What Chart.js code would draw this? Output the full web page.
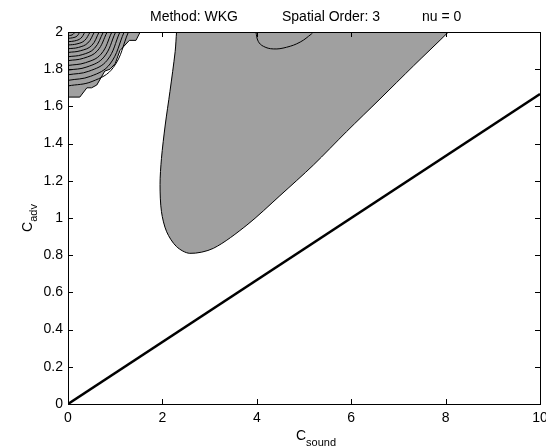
<!DOCTYPE html>
<html>
<head>
<meta charset="utf-8">
<script src="https://cdn.jsdelivr.net/npm/chart.js@4/dist/chart.umd.min.js"></script>
<style>
  html, body { margin: 0; padding: 0; background: #fff; }
  #wrap { width: 546px; height: 448px; }
</style>
</head>
<body>
<div id="wrap"><canvas id="chart" width="546" height="448"></canvas></div>
<script>
// Axis ranges and ticks
const xTicks = [0, 2, 4, 6, 8, 10];
const yTicks = [0, 0.2, 0.4, 0.6, 0.8, 1, 1.2, 1.4, 1.6, 1.8, 2];

// Stability line C_adv = C_sound / 6
const lineX = [0, 10];
const lineY = [0, 1.6667];

// Grey region boundary (closed loop, top part runs just above the axes and is clipped)
const regionX = [2.33, 2.30, 2.27, 2.16, 2.06, 1.98, 1.95, 1.98, 2.09, 2.30, 2.58, 3.08, 3.79, 4.49, 5.20, 5.90, 6.61, 7.32, 8.06, 8.36, 2.33];
const regionY = [2.08, 2.00, 1.894, 1.68, 1.50, 1.32, 1.18, 1.034, 0.926, 0.846, 0.81, 0.837, 0.962, 1.12, 1.285, 1.464, 1.640, 1.818, 2.00, 2.08, 2.08];

// Inner contour line near the top of the grey region
const innerX = [3.98, 4.03, 4.14, 4.35, 4.63, 4.92, 5.16, 5.20];
const innerY = [2.00, 1.95, 1.923, 1.909, 1.918, 1.946, 1.99, 2.00];

// Top-left blob outer (stepped) boundary
const blobX = [0, 1.53, 1.44, 1.30, 1.10, 1.00, 0.89, 0.78, 0.61, 0.50, 0.40, 0.25, 0, 0];
const blobY = [2.00, 2.00, 1.955, 1.955, 1.90, 1.83, 1.80, 1.79, 1.715, 1.70, 1.70, 1.65, 1.65, 2.00];

// Top-left blob contour arcs
const arcsX = [
  [0, 0.06, 0.11, 0.15],
  [0, 0.10, 0.19, 0.25],
  [0, 0.14, 0.27, 0.36],
  [0, 0.19, 0.35, 0.47],
  [0, 0.22, 0.42, 0.56],
  [0, 0.26, 0.50, 0.66],
  [0, 0.30, 0.56, 0.75],
  [0, 0.33, 0.62, 0.83],
  [0, 0.37, 0.70, 0.93],
  [0, 0.40, 0.76, 1.01],
  [0, 0.44, 0.83, 1.10],
  [0, 0.48, 0.89, 1.19],
  [0, 0.51, 0.96, 1.28]
];
const arcsY = [
  [1.980, 1.982, 1.988, 2],
  [1.966, 1.969, 1.978, 2],
  [1.948, 1.952, 1.966, 2],
  [1.930, 1.936, 1.954, 2],
  [1.910, 1.917, 1.941, 2],
  [1.890, 1.899, 1.927, 2],
  [1.867, 1.878, 1.912, 2],
  [1.846, 1.859, 1.898, 2],
  [1.820, 1.835, 1.881, 2],
  [1.795, 1.812, 1.865, 2],
  [1.770, 1.789, 1.848, 2],
  [1.740, 1.762, 1.828, 2],
  [1.710, 1.734, 1.809, 2]
];

const GREY = 'rgb(160,160,160)';
const FONT = 'Liberation Sans, Arial, Helvetica, sans-serif';
const FS = 14;

function pts(xs, ys) {
  return xs.map((x, i) => ({ x: x, y: ys[i] }));
}

const datasets = [];

// grey fills with outline
datasets.push({
  data: pts(regionX, regionY), showLine: true, fill: 'shape',
  backgroundColor: GREY, borderColor: '#000', borderWidth: 1,
  pointRadius: 0, tension: 0.3, order: 5
});
datasets.push({
  data: pts(blobX, blobY), showLine: true, fill: 'shape',
  backgroundColor: GREY, borderColor: '#000', borderWidth: 1,
  pointRadius: 0, tension: 0, order: 5
});
datasets.push({
  data: pts(innerX, innerY), showLine: true, fill: false,
  borderColor: '#000', borderWidth: 1, pointRadius: 0, tension: 0.4, order: 3
});
arcsX.forEach((ax, i) => {
  datasets.push({
    data: pts(ax, arcsY[i]), showLine: true, fill: false,
    borderColor: '#000', borderWidth: 1, pointRadius: 0, tension: 0.4, order: 3
  });
});
datasets.push({
  data: pts(lineX, lineY), showLine: true, fill: false,
  borderColor: '#000', borderWidth: 2.5, pointRadius: 0, order: 1
});

// Draw box, inward ticks, title and axis labels
const framePlugin = {
  id: 'frame',
  afterDraw(chart) {
    const ctx = chart.ctx;
    const a = chart.chartArea;
    const xs = chart.scales.x, ys = chart.scales.y;
    ctx.save();
    ctx.strokeStyle = '#000';
    ctx.lineWidth = 1;
    ctx.strokeRect(Math.round(a.left) + 0.5, Math.round(a.top) + 0.5,
      Math.round(a.right - a.left), Math.round(a.bottom - a.top));
    const tl = 5;
    ctx.beginPath();
    xTicks.forEach(v => {
      const px = Math.round(xs.getPixelForValue(v)) + 0.5;
      ctx.moveTo(px, a.bottom); ctx.lineTo(px, a.bottom - tl);
      ctx.moveTo(px, a.top); ctx.lineTo(px, a.top + tl);
    });
    yTicks.forEach(v => {
      const py = Math.round(ys.getPixelForValue(v)) + 0.5;
      ctx.moveTo(a.left, py); ctx.lineTo(a.left + tl, py);
      ctx.moveTo(a.right, py); ctx.lineTo(a.right - tl, py);
    });
    ctx.stroke();

    ctx.fillStyle = '#000';
    ctx.textBaseline = 'alphabetic';
    ctx.textAlign = 'left';
    ctx.font = FS + 'px ' + FONT;
    ctx.fillText('Method: WKG', 150, 21);
    ctx.fillText('Spatial Order: 3', 282, 21);
    ctx.fillText('nu = 0', 422, 21);

    // x label
    ctx.font = FS + 'px ' + FONT;
    const cw = ctx.measureText('C').width;
    const x0 = 296;
    ctx.fillText('C', x0, 440);
    ctx.font = '11px ' + FONT;
    ctx.fillText('sound', x0 + cw, 446);

    // y label
    ctx.translate(32, (a.top + a.bottom) / 2);
    ctx.rotate(-Math.PI / 2);
    ctx.font = '11px ' + FONT;
    const aw = ctx.measureText('adv').width;
    const y0 = -(cw + aw) / 2;
    ctx.font = FS + 'px ' + FONT;
    ctx.fillText('C', y0, 0);
    ctx.font = '11px ' + FONT;
    ctx.fillText('adv', y0 + cw, 5);
    ctx.restore();
  }
};

new Chart(document.getElementById('chart'), {
  type: 'scatter',
  data: { datasets: datasets },
  options: {
    responsive: false,
    animation: false,
    events: [],
    layout: { padding: { top: 32, right: 6, left: 0, bottom: 0 } },
    plugins: { legend: { display: false }, tooltip: { enabled: false }, title: { display: false } },
    scales: {
      x: {
        type: 'linear', min: 0, max: 10,
        afterBuildTicks: s => { s.ticks = xTicks.map(v => ({ value: v })); },
        afterFit: s => { s.height = 44; s.paddingLeft = 0; s.paddingRight = 0; },
        grid: { display: false, drawTicks: false },
        border: { display: false },
        ticks: { color: '#000', padding: 6, font: { family: FONT, size: FS }, maxRotation: 0,
          callback: v => String(v) }
      },
      y: {
        type: 'linear', min: 0, max: 2,
        afterBuildTicks: s => { s.ticks = yTicks.map(v => ({ value: v })); },
        afterFit: s => { s.width = 68; s.paddingTop = 0; s.paddingBottom = 0; },
        grid: { display: false, drawTicks: false },
        border: { display: false },
        ticks: { color: '#000', padding: 5, font: { family: FONT, size: FS },
          callback: v => String(+Number(v).toFixed(1)) }
      }
    }
  },
  plugins: [framePlugin]
});
</script>
</body>
</html>
